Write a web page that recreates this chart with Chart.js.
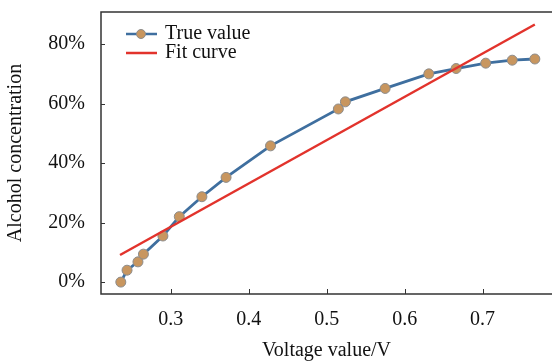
<!DOCTYPE html>
<html lang="en">
<head>
    <meta charset="UTF-8">
    <title>Alcohol concentration vs voltage</title>
    <script src="https://cdn.jsdelivr.net/npm/chart.js"></script>
    <style>
        body { margin: 0; padding: 0; background: #ffffff; overflow: hidden; }
        canvas { display: block; }
    </style>
</head>
<body>
    <canvas id="fitChart" width="552" height="361"></canvas>

    <script>
        // measured points (voltage in V, concentration in %)
        const voltage = [0.236, 0.244, 0.258, 0.265, 0.290, 0.311, 0.340, 0.371, 0.428, 0.515, 0.524, 0.575, 0.631, 0.666, 0.704, 0.738, 0.767];
        const concentration = [0.0, 4.0, 6.8, 9.4, 15.5, 22.0, 28.7, 35.2, 45.8, 58.2, 60.6, 65.1, 70.0, 71.8, 73.6, 74.6, 75.0];

        // fit line end points
        const fitVoltage = [0.235, 0.767];
        const fitConcentration = [9.1, 86.6];

        const xTicks = [0.3, 0.4, 0.5, 0.6, 0.7];
        const yTicks = [0, 20, 40, 60, 80];

        const seriesNames = ['True value', 'Fit curve'];

        const blue = '#3f6f9f';
        const red = '#e2332c';
        const dotFill = '#c8965f';
        const dotEdge = '#8c8c8c';
        const serif = "'Liberation Serif', 'DejaVu Serif', serif";

        const truePoints = voltage.map((v, i) => ({ x: v, y: concentration[i] }));
        const fitPoints = fitVoltage.map((v, i) => ({ x: v, y: fitConcentration[i] }));

        // no automatic padding, the plot box is fixed
        function noPad(s) {
            s.paddingTop = 0;
            s.paddingBottom = 0;
            s.paddingLeft = 0;
            s.paddingRight = 0;
        }

        // frame, inward ticks and legend
        const framePlugin = {
            id: 'frame',
            afterDraw(chart) {
                const ctx = chart.ctx;
                const a = chart.chartArea;
                const xs = chart.scales.x, ys = chart.scales.y;
                ctx.save();
                ctx.strokeStyle = '#333';
                ctx.lineWidth = 1.5;
                ctx.beginPath();
                ctx.moveTo(a.right, a.top);
                ctx.lineTo(a.left, a.top);
                ctx.lineTo(a.left, a.bottom);
                ctx.lineTo(a.right, a.bottom);
                ctx.stroke();
                ctx.lineWidth = 1;
                ctx.beginPath();
                xTicks.forEach(t => {
                    const px = Math.round(xs.getPixelForValue(t)) + 0.5;
                    ctx.moveTo(px, a.bottom);
                    ctx.lineTo(px, a.bottom - 5);
                });
                yTicks.forEach(t => {
                    const py = Math.round(ys.getPixelForValue(t)) + 0.5;
                    ctx.moveTo(a.left, py);
                    ctx.lineTo(a.left + 4, py);
                });
                ctx.stroke();

                // legend
                const rows = [
                    { name: seriesNames[0], color: blue, dot: true, y: 34 },
                    { name: seriesNames[1], color: red, dot: false, y: 53 }
                ];
                rows.forEach(r => {
                    ctx.strokeStyle = r.color;
                    ctx.lineWidth = 2.5;
                    ctx.beginPath();
                    ctx.moveTo(126, r.y);
                    ctx.lineTo(157, r.y);
                    ctx.stroke();
                    if (r.dot) {
                        ctx.beginPath();
                        ctx.arc(141, r.y, 4.5, 0, Math.PI * 2);
                        ctx.fillStyle = dotFill;
                        ctx.fill();
                        ctx.lineWidth = 1;
                        ctx.strokeStyle = dotEdge;
                        ctx.stroke();
                    }
                    ctx.fillStyle = '#111';
                    ctx.font = '20px ' + serif;
                    ctx.textBaseline = 'middle';
                    ctx.textAlign = 'left';
                    ctx.fillText(r.name, 165, r.y);
                });
                ctx.restore();
            }
        };

        const ctx = document.getElementById('fitChart').getContext('2d');
        new Chart(ctx, {
            type: 'scatter',
            data: {
                datasets: [{
                    label: seriesNames[1],
                    data: fitPoints,
                    showLine: true,
                    borderColor: red,
                    borderWidth: 2.5,
                    pointRadius: 0,
                    order: 0
                }, {
                    label: seriesNames[0],
                    data: truePoints,
                    showLine: true,
                    borderColor: blue,
                    borderWidth: 2.8,
                    pointRadius: 5,
                    pointBackgroundColor: dotFill,
                    pointBorderColor: dotEdge,
                    pointBorderWidth: 1,
                    order: 1
                }]
            },
            options: {
                responsive: false,
                animation: false,
                layout: { autoPadding: false, padding: { left: 0, top: 12, right: 0, bottom: 0 } },
                plugins: {
                    legend: { display: false },
                    tooltip: { enabled: false }
                },
                scales: {
                    x: {
                        type: 'linear',
                        min: 0.2106,
                        max: 0.789,
                        afterFit(s) { s.height = 67; noPad(s); },
                        afterBuildTicks(s) { s.ticks = xTicks.map(v => ({ value: v })); },
                        grid: { display: false, drawTicks: false },
                        border: { display: false },
                        ticks: {
                            padding: 14,
                            color: '#111',
                            maxRotation: 0,
                            font: { family: serif, size: 20 },
                            callback: v => v.toFixed(1)
                        },
                        title: {
                            display: true,
                            text: 'Voltage value/V',
                            color: '#111',
                            padding: 0,
                            font: { family: serif, size: 20, lineHeight: 1 }
                        }
                    },
                    y: {
                        type: 'linear',
                        min: -4,
                        max: 90.8,
                        afterFit(s) { s.width = 101; noPad(s); },
                        afterBuildTicks(s) { s.ticks = yTicks.map(v => ({ value: v })); },
                        grid: { display: false, drawTicks: false },
                        border: { display: false },
                        ticks: {
                            padding: 16,
                            color: '#111',
                            font: { family: serif, size: 20 },
                            callback: v => v + '%'
                        },
                        title: {
                            display: true,
                            text: 'Alcohol concentration',
                            color: '#111',
                            padding: { top: 6, bottom: 0 },
                            font: { family: serif, size: 20, lineHeight: 1 }
                        }
                    }
                }
            },
            plugins: [framePlugin]
        });
    </script>
</body>
</html>
